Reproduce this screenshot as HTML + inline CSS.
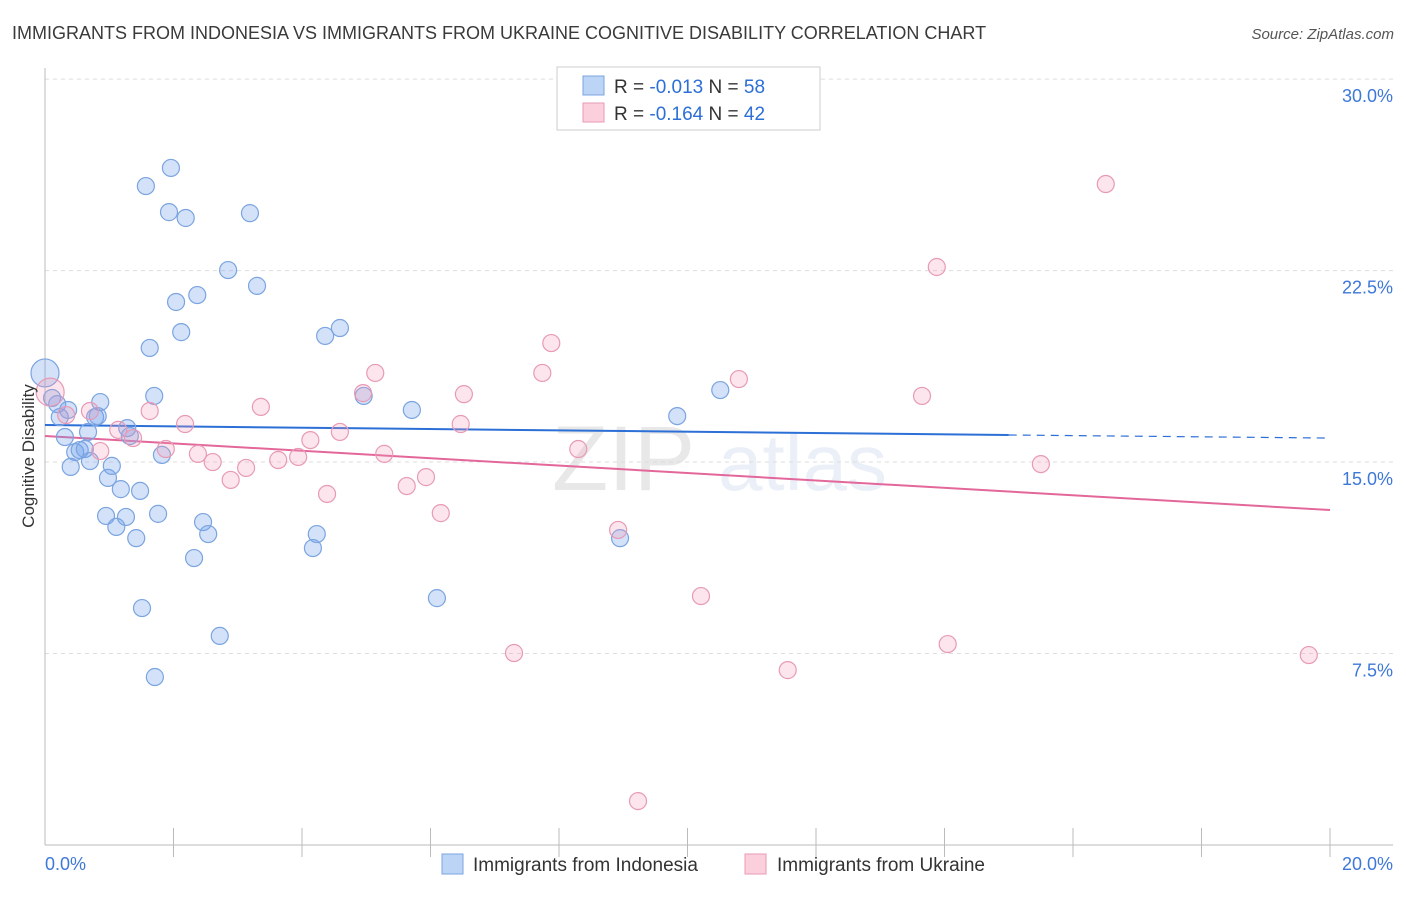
<!DOCTYPE html>
<html><head><meta charset="utf-8"><style>
body{margin:0;background:#fff;font-family:"Liberation Sans",sans-serif;}
svg text{font-family:"Liberation Sans",sans-serif;}
</style></head><body>
<svg id="chart" width="1406" height="892" viewBox="0 0 1406 892" xmlns="http://www.w3.org/2000/svg">
<text x="12" y="39" font-size="18" fill="#3a3a3a">IMMIGRANTS FROM INDONESIA VS IMMIGRANTS FROM UKRAINE COGNITIVE DISABILITY CORRELATION CHART</text>
<text x="1394" y="39" font-size="15" fill="#555" text-anchor="end" font-style="italic">Source: ZipAtlas.com</text>
<g opacity="0.13">
<text x="552" y="490" font-size="92" font-family="Liberation Serif" fill="#555">ZIP</text>
<text x="718" y="490" font-size="80" fill="#6a90d0">atlas</text>
</g>
<g id="grid"></g>
<g id="axes"></g>
<g id="lines"></g>
<g id="points"></g>
<text transform="translate(34,456) rotate(-90)" font-size="17" fill="#333" text-anchor="middle">Cognitive Disability</text>
<g>
<rect x="557" y="67" width="263" height="63" fill="#fff" stroke="#ccc"/>
<rect x="583" y="76" width="21" height="19" fill="#bcd4f5" stroke="#7ba4e0"/>
<rect x="583" y="103" width="21" height="19" fill="#fbcfdc" stroke="#e89ab5"/>
<text x="614" y="93" font-size="19" fill="#333">R = <tspan fill="#2c6fd6">-0.013</tspan>   N = <tspan fill="#2c6fd6">58</tspan></text>
<text x="614" y="120" font-size="19" fill="#333">R = <tspan fill="#2c6fd6">-0.164</tspan>   N = <tspan fill="#2c6fd6">42</tspan></text>
</g>
<g>
<rect x="442" y="854" width="21" height="20" fill="#bcd4f5" stroke="#7ba4e0"/>
<text x="473" y="871" font-size="19" fill="#333">Immigrants from Indonesia</text>
<rect x="745" y="854" width="21" height="20" fill="#fbcfdc" stroke="#e89ab5"/>
<text x="777" y="871" font-size="19" fill="#333">Immigrants from Ukraine</text>
</g>
</svg>
<script>
const yTicks=[7.5,15.0,22.5,30.0];
const yTickLabels=["7.5%","15.0%","22.5%","30.0%"];
const xEndLabels=["0.0%","20.0%"];
const indoX=[0,0.11,0.19,0.23,0.31,0.36,0.40,0.47,0.54,0.62,0.67,0.70,0.78,0.86,0.82,0.95,0.98,1.04,1.11,1.18,1.26,1.28,1.32,1.42,1.48,1.51,1.57,1.63,1.70,1.71,1.76,1.82,1.93,1.96,2.04,2.12,2.19,2.32,2.37,2.46,2.54,2.72,2.85,3.19,3.30,4.17,4.23,4.36,4.59,4.96,5.71,6.10,8.95,9.84,10.51];
const indoY=[18.49,17.51,17.27,16.76,15.98,17.04,14.81,15.39,15.47,15.51,16.18,15.04,16.76,17.35,16.80,12.89,14.38,14.85,12.46,13.94,12.85,16.33,16.02,12.02,13.87,9.28,25.81,19.47,17.59,6.58,12.97,15.28,24.79,26.52,21.27,20.09,24.56,11.24,21.54,12.65,12.18,8.19,22.52,24.75,21.90,11.63,12.18,19.94,20.25,17.59,17.04,9.67,12.02,16.80,17.82];
const ukrX=[0.08,0.33,0.70,0.86,1.14,1.37,1.63,1.88,2.18,2.38,2.61,2.89,3.13,3.36,3.63,3.94,4.13,4.39,4.59,4.95,5.14,5.28,5.63,5.93,6.16,6.47,6.52,7.30,7.74,7.88,8.30,8.92,9.23,10.21,10.80,11.56,13.65,13.88,14.05,15.50,16.51,19.67];
const ukrY=[17.74,16.84,17.00,15.43,16.26,15.94,17.00,15.51,16.49,15.32,15.00,14.30,14.77,17.16,15.08,15.20,15.86,13.75,16.18,17.70,18.49,15.32,14.06,14.41,13.00,16.49,17.66,7.52,18.49,19.66,15.51,12.34,1.72,9.75,18.25,6.85,17.59,22.64,7.87,14.92,25.89,7.44];
const indoTrend=[16.45,16.06,15.94]; // at x=0, x=15 (solid end), x=20
const ukrTrend=[16.02,13.12]; // at x=0, x=20
const X=v=>45+v/20*1285, Y=v=>845-v*25.53;
const NS="http://www.w3.org/2000/svg";
function mk(tag,attrs,parent){const e=document.createElementNS(NS,tag);for(const k in attrs)e.setAttribute(k,attrs[k]);document.getElementById(parent).appendChild(e);return e;}
yTicks.forEach((t,i)=>{
 const g=mk('line',{x1:45,x2:1393,y1:Y(t),y2:Y(t),stroke:'#ddd','stroke-dasharray':'4,4'},'grid');
 
 
 const l=mk('text',{x:1393,y:Y(t)+23,'font-size':18,fill:'#3d78d8','text-anchor':'end'},'grid');
 l.textContent=yTickLabels[i];
 
 
});
const ya=mk('line',{x1:45,x2:45,y1:68,y2:845,stroke:'#bbb'},'axes');


const xa=mk('line',{x1:45,x2:1393,y1:845,y2:845,stroke:'#bbb'},'axes');


for(let i=1;i<=10;i++){
 const t=mk('line',{x1:X(i*2),x2:X(i*2),y1:828,y2:857,stroke:'#bbb'},'axes');
 
 
}
[[0,45,'start'],[1,1393,'end']].forEach(([i,x,a])=>{
 const l=mk('text',{x:x,y:870,'font-size':18,fill:'#3d78d8','text-anchor':a},'axes');
 l.textContent=xEndLabels[i];
 
 
});
function pts(xs,ys,fill,stroke,name){
 xs.forEach((v,i)=>{
  const r=(i===0)?14:8.5;
  const c=mk('circle',{cx:X(v),cy:Y(ys[i]),r:r,fill:fill,stroke:stroke,'stroke-width':1.2},'points');
  
  
 });
}
pts(indoX,indoY,'rgba(110,160,235,0.3)','#7ba4e0','point-indonesia');
pts(ukrX,ukrY,'rgba(245,150,185,0.25)','#e89ab5','point-ukraine');
const b1=mk('line',{x1:X(0),y1:Y(indoTrend[0]),x2:X(15),y2:Y(indoTrend[1]),stroke:'#2c6fd6','stroke-width':2},'lines');


const b2=mk('line',{x1:X(15),y1:Y(indoTrend[1]),x2:X(20),y2:Y(indoTrend[2]),stroke:'#2c6fd6','stroke-width':1.2,'stroke-dasharray':'8,6'},'lines');


const p1=mk('line',{x1:X(0),y1:Y(ukrTrend[0]),x2:X(20),y2:Y(ukrTrend[1]),stroke:'#e3679a','stroke-width':2},'lines');


</script>
</body></html>
